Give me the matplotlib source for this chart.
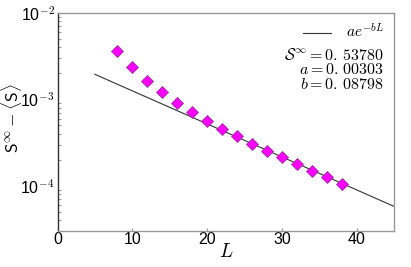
import numpy as np
import matplotlib
matplotlib.use("Agg")
import matplotlib.pyplot as plt

plt.rcParams['font.family'] = ['Liberation Sans', 'DejaVu Sans']
plt.rcParams['mathtext.fontset'] = 'cm'

# data
L = [8, 10, 12, 14, 16, 18, 20, 22, 24, 26, 28, 30, 32, 34, 36, 38]
dS = [3.64e-3, 2.38e-3, 1.65e-3, 1.21e-3, 9.2e-4, 7.15e-4, 5.65e-4, 4.6e-4,
      3.75e-4, 3.07e-4, 2.56e-4, 2.13e-4, 1.79e-4, 1.49e-4, 1.26e-4, 1.05e-4]

# fit parameters
S_inf = 0.53780
a = 0.00303
b = 0.08798
L_fit = np.linspace(5, 45, 100)

fig = plt.figure(figsize=(4.11, 2.67), dpi=100)
ax = fig.add_axes([57.5 / 411, 1 - 231 / 267, (394 - 57.5) / 411, (231 - 13) / 267])

ax.plot(L_fit, a * np.exp(-b * L_fit), color='#333333', lw=0.8, label=r'$ae^{-bL}$')
ax.plot(L, dS, 'D', color='#ff00ff', markeredgecolor='#993399', markeredgewidth=0.6,
        markersize=6, linestyle='none')

ax.set_yscale('log')
ax.set_xlim(0, 45)
ax.set_ylim(3e-5, 1e-2)
ax.set_xticks([0, 10, 20, 30, 40])
ax.set_yticks([1e-4, 1e-3, 1e-2])
ax.set_yticklabels([r'10$^{-4}$', r'10$^{-3}$', r'10$^{-2}$'])

for s in ['top', 'right', 'bottom']:
    ax.spines[s].set_color('#999999')
ax.spines['left'].set_color('#333333')
for s in ax.spines.values():
    s.set_linewidth(1.0)

ax.tick_params(axis='both', which='both', direction='in', labelsize=11.5)
ax.tick_params(axis='x', length=2, color='#999999', pad=1)
ax.tick_params(axis='y', which='major', length=0, pad=2)
ax.tick_params(axis='y', which='minor', length=2, color='#888888')
ax.tick_params(right=False, top=False)

ax.set_xlabel(r'$L$', fontsize=14, labelpad=-3)
fig.text(11 / 411, 1 - 118 / 267, r'$\mathsf{S}^{\infty} - \langle \mathsf{S} \rangle$',
         fontsize=12.5, rotation=90, ha='center', va='center')

leg = ax.legend(loc='upper right', frameon=False, fontsize=11, handlelength=1.8,
                borderaxespad=0.25, handletextpad=1.0)
txt = (r'$\mathcal{S}^{\infty} = 0.\,53780$' + '\n' +
       r'$a = 0.\,00303$' + '\n' + r'$b = 0.\,08798$')
ax.text(0.97, 0.845, txt, transform=ax.transAxes, ha='right', va='top',
        fontsize=11.5, linespacing=0.95)

fig.savefig('out.png', dpi=100)
